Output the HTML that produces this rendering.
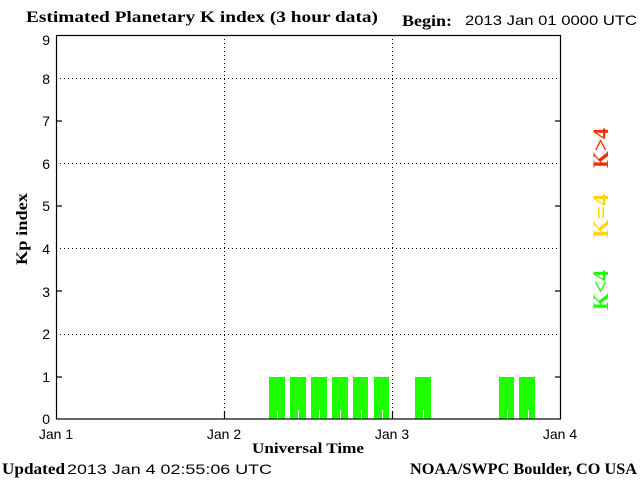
<!DOCTYPE html>
<html><head><style>body{margin:0;background:#fff}svg{display:block}</style></head><body>
<svg width="640" height="480" xmlns="http://www.w3.org/2000/svg">
<rect width="640" height="480" fill="#fff"/>
<g fill="#1eff00">
<rect x="269" y="377" width="16" height="42"/>
<rect x="290" y="377" width="16" height="42"/>
<rect x="311" y="377" width="16" height="42"/>
<rect x="332" y="377" width="16" height="42"/>
<rect x="353" y="377" width="15" height="42"/>
<rect x="374" y="377" width="15" height="42"/>
<rect x="415" y="377" width="16" height="42"/>
<rect x="499" y="377" width="15" height="42"/>
<rect x="519" y="377" width="16" height="42"/>
</g>
<g stroke="#fff" stroke-width="1">
<line x1="277.5" y1="410" x2="277.5" y2="419"/><line x1="298.5" y1="410" x2="298.5" y2="419"/>
<line x1="319.5" y1="410" x2="319.5" y2="419"/><line x1="340.5" y1="410" x2="340.5" y2="419"/>
<line x1="361.5" y1="410" x2="361.5" y2="419"/><line x1="382.5" y1="410" x2="382.5" y2="419"/>
<line x1="423.5" y1="410" x2="423.5" y2="419"/><line x1="507.5" y1="410" x2="507.5" y2="419"/>
<line x1="528.5" y1="410" x2="528.5" y2="419"/>
</g>
<g stroke="#000" stroke-width="1" stroke-dasharray="1,3">
<line x1="56" y1="78.5" x2="560" y2="78.5"/>
<line x1="56" y1="163.5" x2="560" y2="163.5"/>
<line x1="56" y1="248.5" x2="560" y2="248.5"/>
<line x1="56" y1="334.5" x2="560" y2="334.5"/>
<line x1="224.5" y1="35" x2="224.5" y2="419"/>
<line x1="392.5" y1="35" x2="392.5" y2="419"/>
</g>
<g stroke="#000" stroke-width="1.2" fill="none">
<rect x="56.5" y="35.5" width="504" height="383.5"/>
<line x1="56" y1="121" x2="62" y2="121"/><line x1="555" y1="121" x2="560" y2="121"/>
<line x1="56" y1="206" x2="62" y2="206"/><line x1="555" y1="206" x2="560" y2="206"/>
<line x1="56" y1="291" x2="62" y2="291"/><line x1="555" y1="291" x2="560" y2="291"/>
<line x1="56" y1="377" x2="62" y2="377"/><line x1="555" y1="377" x2="560" y2="377"/>
<line x1="224.5" y1="411" x2="224.5" y2="419"/><line x1="392.5" y1="411" x2="392.5" y2="419"/>
</g>
<g font-family="Liberation Sans, sans-serif" font-size="14" fill="#000" text-anchor="end">
<text x="50" y="45">9</text><text x="50" y="84">8</text><text x="50" y="126">7</text>
<text x="50" y="169">6</text><text x="50" y="211">5</text><text x="50" y="254">4</text>
<text x="50" y="297">3</text><text x="50" y="339">2</text><text x="50" y="382">1</text>
<text x="50" y="424">0</text>
</g>
<g font-family="Liberation Sans, sans-serif" font-size="14" fill="#000" text-anchor="middle">
<text x="56" y="439">Jan 1</text><text x="224" y="439">Jan 2</text>
<text x="392" y="439">Jan 3</text><text x="560" y="439">Jan 4</text>
</g>
<g font-family="Liberation Serif, serif" font-weight="bold" fill="#000">
<text x="26" y="22" font-size="16" textLength="352" lengthAdjust="spacingAndGlyphs">Estimated Planetary K index (3 hour data)</text>
<text x="402" y="26" font-size="16" textLength="50" lengthAdjust="spacingAndGlyphs">Begin:</text>
<text x="252" y="453" font-size="15" textLength="112" lengthAdjust="spacingAndGlyphs">Universal Time</text>
<text x="2" y="474" font-size="16" textLength="63" lengthAdjust="spacingAndGlyphs">Updated</text>
<text x="410" y="474" font-size="16" textLength="227" lengthAdjust="spacingAndGlyphs">NOAA/SWPC Boulder, CO USA</text>
<text transform="translate(27,229) rotate(-90)" font-size="16" text-anchor="middle" textLength="72" lengthAdjust="spacingAndGlyphs">Kp index</text>
</g>
<g font-family="Liberation Sans, sans-serif" font-size="14" fill="#000">
<text x="465" y="25" textLength="172" lengthAdjust="spacingAndGlyphs">2013 Jan 01 0000 UTC</text>
<text x="67" y="474" textLength="205" lengthAdjust="spacingAndGlyphs">2013 Jan  4 02:55:06 UTC</text>
</g>
<g font-family="Liberation Serif, serif" font-size="22" font-weight="bold" text-anchor="middle">
<text transform="translate(608,148) rotate(-90)" fill="#ff2a00" textLength="40" lengthAdjust="spacingAndGlyphs">K&gt;4</text>
<text transform="translate(608,216) rotate(-90)" fill="#ffd700" textLength="44" lengthAdjust="spacingAndGlyphs">K=4</text>
<text transform="translate(608,290) rotate(-90)" fill="#1eff00" textLength="40" lengthAdjust="spacingAndGlyphs">K&lt;4</text>
</g>
</svg>
</body></html>
